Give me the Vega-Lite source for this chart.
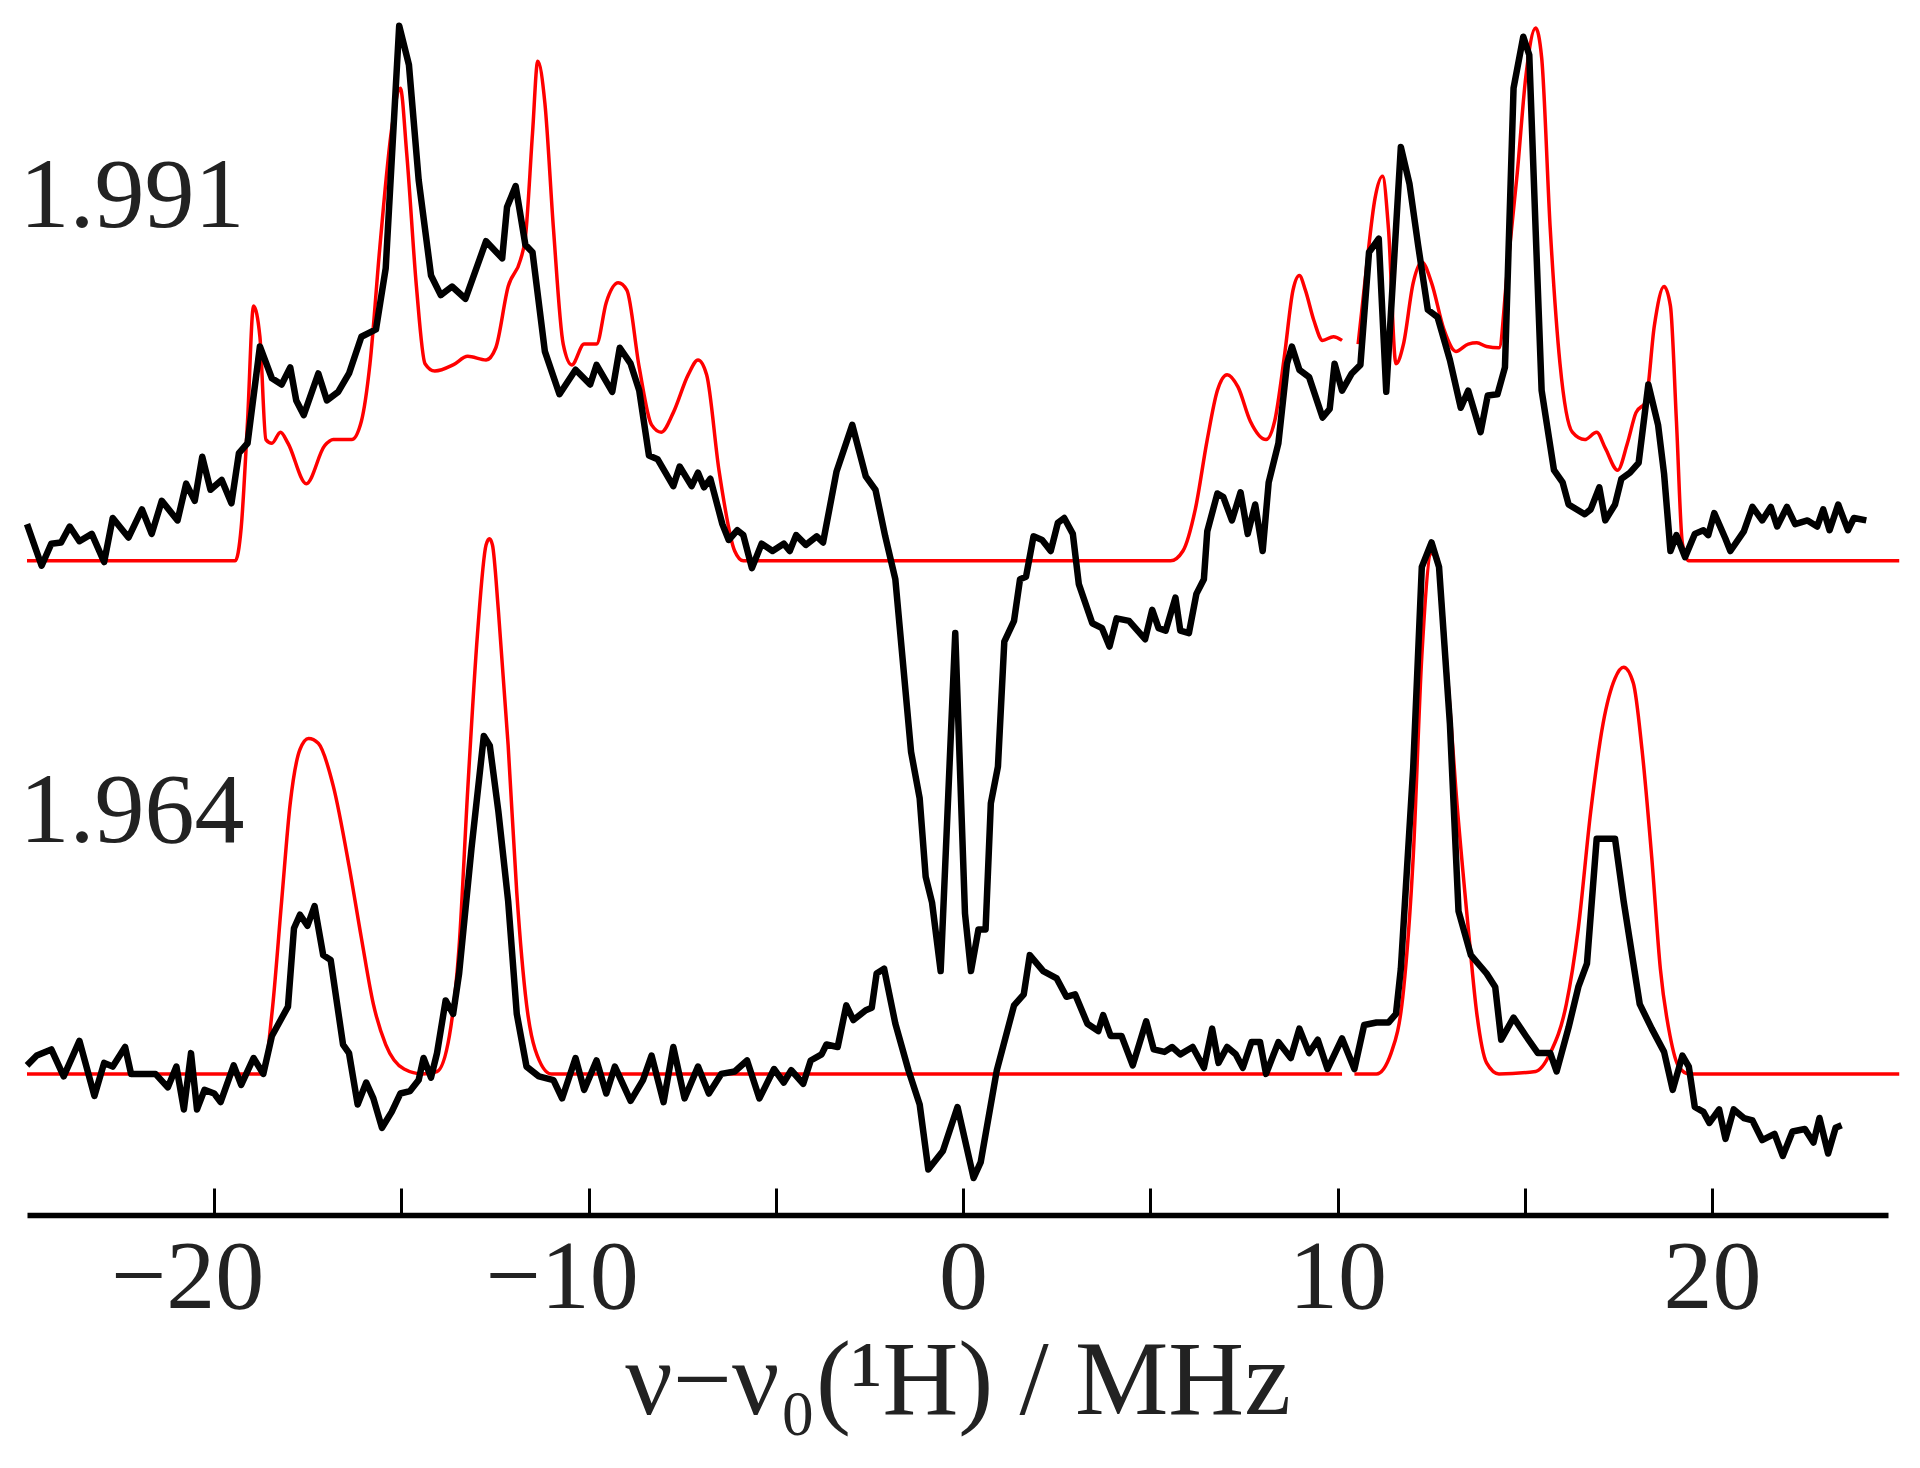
{
"$schema": "https://vega.github.io/schema/vega-lite/v6.json",
"width": 1861, "height": 1205,
"autosize": {"type": "none"},
"padding": {"left": 27, "top": 10, "right": 32, "bottom": 253},
"background": "white",
"config": {"view": {"stroke": null}, "font": "Liberation Serif"},
"datasets": {
"sim": [
{"p":"ua","x":-25,"y":419},{"p":"ua","x":-19.44,"y":419},{"p":"ua","x":-19.28,"y":446},{"p":"ua","x":-19.11,"y":533},{"p":"ua","x":-18.95,"y":627},{"p":"ua","x":-18.78,"y":602},{"p":"ua","x":-18.62,"y":518},{"p":"ua","x":-18.46,"y":515},{"p":"ua","x":-18.23,"y":524},{"p":"ua","x":-18.03,"y":515},{"p":"ua","x":-17.54,"y":482},{"p":"ua","x":-17.05,"y":513},{"p":"ua","x":-16.82,"y":518},{"p":"ua","x":-16.33,"y":518},{"p":"ua","x":-16.07,"y":533},{"p":"ua","x":-15.84,"y":580},{"p":"ua","x":-15.58,"y":674},{"p":"ua","x":-15.25,"y":774},{"p":"ua","x":-15.03,"y":805},{"p":"ua","x":-14.86,"y":752},{"p":"ua","x":-14.6,"y":643},{"p":"ua","x":-14.37,"y":580},{"p":"ua","x":-14.11,"y":574},{"p":"ua","x":-13.62,"y":579},{"p":"ua","x":-13.23,"y":586},{"p":"ua","x":-12.74,"y":583},{"p":"ua","x":-12.48,"y":593},{"p":"ua","x":-12.15,"y":643},{"p":"ua","x":-11.82,"y":665},{"p":"ua","x":-11.69,"y":683},{"p":"ua","x":-11.5,"y":768},{"p":"ua","x":-11.36,"y":827},{"p":"ua","x":-11.17,"y":793},{"p":"ua","x":-10.94,"y":690},{"p":"ua","x":-10.68,"y":596},{"p":"ua","x":-10.45,"y":579},{"p":"ua","x":-10.12,"y":596},{"p":"ua","x":-9.79,"y":596},{"p":"ua","x":-9.53,"y":630},{"p":"ua","x":-9.21,"y":646},{"p":"ua","x":-8.98,"y":640},{"p":"ua","x":-8.65,"y":577},{"p":"ua","x":-8.32,"y":530},{"p":"ua","x":-8.06,"y":524},{"p":"ua","x":-7.74,"y":540},{"p":"ua","x":-7.34,"y":571},{"p":"ua","x":-7.08,"y":583},{"p":"ua","x":-6.85,"y":571},{"p":"ua","x":-6.52,"y":493},{"p":"ua","x":-6.1,"y":427},{"p":"ua","x":-5.87,"y":419},{"p":"ua","x":5.54,"y":419},{"p":"ua","x":5.87,"y":427},{"p":"ua","x":6.2,"y":461},{"p":"ua","x":6.52,"y":518},{"p":"ua","x":6.79,"y":558},{"p":"ua","x":7.05,"y":571},{"p":"ua","x":7.34,"y":561},{"p":"ua","x":7.67,"y":533},{"p":"ua","x":8.09,"y":518},{"p":"ua","x":8.32,"y":533},{"p":"ua","x":8.58,"y":586},{"p":"ua","x":8.81,"y":640},{"p":"ua","x":8.98,"y":652},{"p":"ua","x":9.14,"y":640},{"p":"ua","x":9.37,"y":615},{"p":"ua","x":9.6,"y":599},{"p":"ua","x":9.89,"y":602},{"p":"ua","x":10.12,"y":599},
{"p":"ub","x":10.55,"y":596},{"p":"ub","x":10.77,"y":658},{"p":"ub","x":11.0,"y":715},{"p":"ub","x":11.2,"y":733},{"p":"ub","x":11.36,"y":690},{"p":"ub","x":11.56,"y":580},{"p":"ub","x":11.76,"y":596},{"p":"ub","x":12.02,"y":646},{"p":"ub","x":12.25,"y":663},{"p":"ub","x":12.51,"y":646},{"p":"ub","x":12.84,"y":608},{"p":"ub","x":13.16,"y":590},{"p":"ub","x":13.49,"y":596},{"p":"ub","x":13.72,"y":597},{"p":"ub","x":13.98,"y":594},{"p":"ub","x":14.31,"y":593},{"p":"ub","x":14.54,"y":658},{"p":"ub","x":14.8,"y":736},{"p":"ub","x":15.03,"y":815},{"p":"ub","x":15.29,"y":854},{"p":"ub","x":15.45,"y":830},{"p":"ub","x":15.68,"y":690},{"p":"ub","x":15.94,"y":580},{"p":"ub","x":16.27,"y":524},{"p":"ub","x":16.6,"y":518},{"p":"ub","x":16.92,"y":524},{"p":"ub","x":17.15,"y":511},{"p":"ub","x":17.48,"y":493},{"p":"ub","x":17.74,"y":515},{"p":"ub","x":17.97,"y":540},{"p":"ub","x":18.23,"y":549},{"p":"ub","x":18.46,"y":611},{"p":"ub","x":18.72,"y":643},{"p":"ub","x":18.89,"y":627},{"p":"ub","x":19.05,"y":533},{"p":"ub","x":19.21,"y":433},{"p":"ub","x":19.38,"y":419},{"p":"ub","x":25,"y":419},
{"p":"la","x":-25,"y":0},{"p":"la","x":-18.69,"y":0},{"p":"la","x":-18.46,"y":49},{"p":"la","x":-18.2,"y":141},{"p":"la","x":-17.97,"y":221},{"p":"la","x":-17.71,"y":265},{"p":"la","x":-17.48,"y":274},{"p":"la","x":-17.22,"y":270},{"p":"la","x":-16.82,"y":235},{"p":"la","x":-16.4,"y":170},{"p":"la","x":-16.07,"y":111},{"p":"la","x":-15.75,"y":57},{"p":"la","x":-15.42,"y":24},{"p":"la","x":-14.93,"y":4},{"p":"la","x":-14.44,"y":0},{"p":"la","x":-14.05,"y":2},{"p":"la","x":-13.72,"y":31},{"p":"la","x":-13.46,"y":104},{"p":"la","x":-13.23,"y":232},{"p":"la","x":-12.97,"y":359},{"p":"la","x":-12.74,"y":432},{"p":"la","x":-12.65,"y":437},{"p":"la","x":-12.57,"y":432},{"p":"la","x":-12.41,"y":378},{"p":"la","x":-12.15,"y":268},{"p":"la","x":-11.92,"y":148},{"p":"la","x":-11.66,"y":57},{"p":"la","x":-11.43,"y":20},{"p":"la","x":-11.0,"y":0},{"p":"la","x":10.12,"y":0},
{"p":"lb","x":10.45,"y":0},{"p":"lb","x":11.04,"y":0},{"p":"lb","x":11.43,"y":17},{"p":"lb","x":11.76,"y":68},{"p":"lb","x":12.02,"y":177},{"p":"lb","x":12.25,"y":341},{"p":"lb","x":12.51,"y":425},{"p":"lb","x":12.67,"y":421},{"p":"lb","x":12.9,"y":341},{"p":"lb","x":13.16,"y":232},{"p":"lb","x":13.49,"y":119},{"p":"lb","x":13.72,"y":49},{"p":"lb","x":13.98,"y":9},{"p":"lb","x":14.31,"y":0},{"p":"lb","x":15.29,"y":2},{"p":"lb","x":15.68,"y":17},{"p":"lb","x":16.11,"y":57},{"p":"lb","x":16.43,"y":119},{"p":"lb","x":16.76,"y":214},{"p":"lb","x":17.09,"y":286},{"p":"lb","x":17.41,"y":323},{"p":"lb","x":17.64,"y":332},{"p":"lb","x":17.9,"y":319},{"p":"lb","x":18.13,"y":265},{"p":"lb","x":18.39,"y":177},{"p":"lb","x":18.62,"y":86},{"p":"lb","x":18.88,"y":31},{"p":"lb","x":19.11,"y":6},{"p":"lb","x":19.38,"y":0},{"p":"lb","x":25,"y":0}
],
"exp": [
{"t":"u","x":-25.0,"y":449},{"t":"u","x":-24.61,"y":415},{"t":"u","x":-24.35,"y":433},{"t":"u","x":-24.09,"y":434},{"t":"u","x":-23.86,"y":447},{"t":"u","x":-23.6,"y":435},{"t":"u","x":-23.27,"y":441},{"t":"u","x":-22.94,"y":418},{"t":"u","x":-22.71,"y":454},{"t":"u","x":-22.29,"y":438},{"t":"u","x":-21.93,"y":461},{"t":"u","x":-21.67,"y":441},{"t":"u","x":-21.4,"y":468},{"t":"u","x":-20.98,"y":452},{"t":"u","x":-20.75,"y":482},{"t":"u","x":-20.52,"y":468},{"t":"u","x":-20.32,"y":504},{"t":"u","x":-20.1,"y":477},{"t":"u","x":-19.8,"y":485},{"t":"u","x":-19.54,"y":466},{"t":"u","x":-19.34,"y":507},{"t":"u","x":-19.11,"y":515},{"t":"u","x":-18.78,"y":594},{"t":"u","x":-18.46,"y":568},{"t":"u","x":-18.2,"y":563},{"t":"u","x":-17.97,"y":577},{"t":"u","x":-17.81,"y":550},{"t":"u","x":-17.61,"y":538},{"t":"u","x":-17.22,"y":572},{"t":"u","x":-16.99,"y":550},{"t":"u","x":-16.69,"y":557},{"t":"u","x":-16.4,"y":572},{"t":"u","x":-16.07,"y":602},{"t":"u","x":-15.68,"y":608},{"t":"u","x":-15.42,"y":658},{"t":"u","x":-15.06,"y":856},{"t":"u","x":-14.8,"y":824},{"t":"u","x":-14.54,"y":730},{"t":"u","x":-14.21,"y":652},{"t":"u","x":-13.95,"y":636},{"t":"u","x":-13.65,"y":643},{"t":"u","x":-13.29,"y":633},{"t":"u","x":-12.74,"y":680},{"t":"u","x":-12.31,"y":666},{"t":"u","x":-12.18,"y":708},{"t":"u","x":-11.95,"y":725},{"t":"u","x":-11.69,"y":677},{"t":"u","x":-11.5,"y":671},{"t":"u","x":-11.17,"y":590},{"t":"u","x":-10.78,"y":555},{"t":"u","x":-10.35,"y":575},{"t":"u","x":-9.96,"y":563},{"t":"u","x":-9.79,"y":579},{"t":"u","x":-9.37,"y":557},{"t":"u","x":-9.17,"y":593},{"t":"u","x":-8.88,"y":580},{"t":"u","x":-8.65,"y":558},{"t":"u","x":-8.39,"y":505},{"t":"u","x":-8.16,"y":502},{"t":"u","x":-7.74,"y":480},{"t":"u","x":-7.57,"y":496},{"t":"u","x":-7.25,"y":480},{"t":"u","x":-7.08,"y":491},{"t":"u","x":-6.92,"y":479},{"t":"u","x":-6.75,"y":486},{"t":"u","x":-6.43,"y":449},{"t":"u","x":-6.26,"y":436},{"t":"u","x":-6.03,"y":444},{"t":"u","x":-5.87,"y":440},{"t":"u","x":-5.64,"y":413},{"t":"u","x":-5.38,"y":433},{"t":"u","x":-5.09,"y":427},{"t":"u","x":-4.79,"y":433},{"t":"u","x":-4.63,"y":427},{"t":"u","x":-4.46,"y":440},{"t":"u","x":-4.2,"y":432},{"t":"u","x":-3.91,"y":439},{"t":"u","x":-3.74,"y":434},{"t":"u","x":-3.38,"y":492},{"t":"u","x":-2.96,"y":530},{"t":"u","x":-2.6,"y":488},{"t":"u","x":-2.34,"y":477},{"t":"u","x":-2.08,"y":439},{"t":"u","x":-1.81,"y":404},{"t":"u","x":-1.39,"y":263},{"t":"u","x":-1.16,"y":225},{"t":"u","x":-1.0,"y":161},{"t":"u","x":-0.83,"y":140},{"t":"u","x":-0.6,"y":84},{"t":"u","x":-0.21,"y":360},{"t":"u","x":0.05,"y":131},{"t":"u","x":0.21,"y":84},{"t":"u","x":0.41,"y":118},{"t":"u","x":0.6,"y":118},{"t":"u","x":0.74,"y":221},{"t":"u","x":0.93,"y":251},{"t":"u","x":1.1,"y":353},{"t":"u","x":1.36,"y":370},{"t":"u","x":1.52,"y":404},{"t":"u","x":1.68,"y":406},{"t":"u","x":1.88,"y":439},{"t":"u","x":2.11,"y":436},{"t":"u","x":2.34,"y":427},{"t":"u","x":2.53,"y":450},{"t":"u","x":2.7,"y":454},{"t":"u","x":2.93,"y":441},{"t":"u","x":3.09,"y":400},{"t":"u","x":3.45,"y":368},{"t":"u","x":3.71,"y":364},{"t":"u","x":3.91,"y":349},{"t":"u","x":4.1,"y":372},{"t":"u","x":4.43,"y":370},{"t":"u","x":4.86,"y":355},{"t":"u","x":5.05,"y":379},{"t":"u","x":5.22,"y":364},{"t":"u","x":5.41,"y":362},{"t":"u","x":5.67,"y":389},{"t":"u","x":5.8,"y":362},{"t":"u","x":6.03,"y":360},{"t":"u","x":6.23,"y":392},{"t":"u","x":6.43,"y":404},{"t":"u","x":6.52,"y":443},{"t":"u","x":6.79,"y":474},{"t":"u","x":6.95,"y":471},{"t":"u","x":7.18,"y":452},{"t":"u","x":7.41,"y":475},{"t":"u","x":7.6,"y":441},{"t":"u","x":7.8,"y":465},{"t":"u","x":8.0,"y":427},{"t":"u","x":8.16,"y":483},{"t":"u","x":8.42,"y":515},{"t":"u","x":8.65,"y":580},{"t":"u","x":8.78,"y":594},{"t":"u","x":8.98,"y":575},{"t":"u","x":9.24,"y":569},{"t":"u","x":9.6,"y":536},{"t":"u","x":9.79,"y":543},{"t":"u","x":9.92,"y":580},{"t":"u","x":10.12,"y":558},{"t":"u","x":10.38,"y":572},{"t":"u","x":10.61,"y":579},{"t":"u","x":10.84,"y":671},{"t":"u","x":11.1,"y":682},{"t":"u","x":11.3,"y":557},{"t":"u","x":11.69,"y":757},{"t":"u","x":11.92,"y":727},{"t":"u","x":12.15,"y":677},{"t":"u","x":12.41,"y":624},{"t":"u","x":12.67,"y":618},{"t":"u","x":13.0,"y":583},{"t":"u","x":13.29,"y":544},{"t":"u","x":13.49,"y":558},{"t":"u","x":13.82,"y":524},{"t":"u","x":14.01,"y":554},{"t":"u","x":14.27,"y":555},{"t":"u","x":14.47,"y":577},{"t":"u","x":14.7,"y":805},{"t":"u","x":14.96,"y":847},{"t":"u","x":15.12,"y":832},{"t":"u","x":15.29,"y":689},{"t":"u","x":15.45,"y":558},{"t":"u","x":15.78,"y":493},{"t":"u","x":16.01,"y":483},{"t":"u","x":16.17,"y":465},{"t":"u","x":16.6,"y":457},{"t":"u","x":16.76,"y":461},{"t":"u","x":16.99,"y":479},{"t":"u","x":17.15,"y":452},{"t":"u","x":17.41,"y":465},{"t":"u","x":17.58,"y":486},{"t":"u","x":17.81,"y":491},{"t":"u","x":18.04,"y":499},{"t":"u","x":18.3,"y":563},{"t":"u","x":18.56,"y":530},{"t":"u","x":18.72,"y":490},{"t":"u","x":18.89,"y":427},{"t":"u","x":19.05,"y":440},{"t":"u","x":19.28,"y":422},{"t":"u","x":19.54,"y":441},{"t":"u","x":19.77,"y":444},{"t":"u","x":19.9,"y":440},{"t":"u","x":20.06,"y":458},{"t":"u","x":20.36,"y":437},{"t":"u","x":20.49,"y":427},{"t":"u","x":20.85,"y":443},{"t":"u","x":21.08,"y":463},{"t":"u","x":21.34,"y":452},{"t":"u","x":21.57,"y":463},{"t":"u","x":21.74,"y":447},{"t":"u","x":22.0,"y":463},{"t":"u","x":22.22,"y":449},{"t":"u","x":22.55,"y":452},{"t":"u","x":22.81,"y":447},{"t":"u","x":22.97,"y":461},{"t":"u","x":23.14,"y":444},{"t":"u","x":23.37,"y":465},{"t":"u","x":23.63,"y":444},{"t":"u","x":23.79,"y":454},{"t":"u","x":24.12,"y":452},
{"t":"l","x":-25.0,"y":7},{"t":"l","x":-24.74,"y":15},{"t":"l","x":-24.35,"y":20},{"t":"l","x":-24.02,"y":-2},{"t":"l","x":-23.6,"y":27},{"t":"l","x":-23.2,"y":-18},{"t":"l","x":-22.94,"y":9},{"t":"l","x":-22.71,"y":6},{"t":"l","x":-22.38,"y":22},{"t":"l","x":-22.22,"y":0},{"t":"l","x":-21.57,"y":0},{"t":"l","x":-21.24,"y":-11},{"t":"l","x":-21.01,"y":6},{"t":"l","x":-20.81,"y":-29},{"t":"l","x":-20.62,"y":17},{"t":"l","x":-20.46,"y":-29},{"t":"l","x":-20.26,"y":-13},{"t":"l","x":-20.0,"y":-16},{"t":"l","x":-19.83,"y":-23},{"t":"l","x":-19.48,"y":7},{"t":"l","x":-19.28,"y":-9},{"t":"l","x":-18.95,"y":13},{"t":"l","x":-18.69,"y":0},{"t":"l","x":-18.46,"y":31},{"t":"l","x":-18.03,"y":55},{"t":"l","x":-17.87,"y":119},{"t":"l","x":-17.71,"y":130},{"t":"l","x":-17.51,"y":121},{"t":"l","x":-17.32,"y":137},{"t":"l","x":-17.09,"y":97},{"t":"l","x":-16.89,"y":93},{"t":"l","x":-16.56,"y":24},{"t":"l","x":-16.4,"y":17},{"t":"l","x":-16.17,"y":-25},{"t":"l","x":-15.94,"y":-7},{"t":"l","x":-15.75,"y":-20},{"t":"l","x":-15.52,"y":-44},{"t":"l","x":-15.26,"y":-31},{"t":"l","x":-15.03,"y":-16},{"t":"l","x":-14.77,"y":-14},{"t":"l","x":-14.54,"y":-5},{"t":"l","x":-14.41,"y":13},{"t":"l","x":-14.21,"y":-3},{"t":"l","x":-14.05,"y":17},{"t":"l","x":-13.82,"y":60},{"t":"l","x":-13.62,"y":49},{"t":"l","x":-13.46,"y":82},{"t":"l","x":-13.13,"y":184},{"t":"l","x":-12.8,"y":276},{"t":"l","x":-12.64,"y":268},{"t":"l","x":-12.41,"y":214},{"t":"l","x":-12.15,"y":141},{"t":"l","x":-11.92,"y":49},{"t":"l","x":-11.66,"y":6},{"t":"l","x":-11.33,"y":-2},{"t":"l","x":-10.94,"y":-5},{"t":"l","x":-10.71,"y":-20},{"t":"l","x":-10.35,"y":13},{"t":"l","x":-10.12,"y":-13},{"t":"l","x":-9.79,"y":11},{"t":"l","x":-9.53,"y":-16},{"t":"l","x":-9.3,"y":6},{"t":"l","x":-8.88,"y":-22},{"t":"l","x":-8.55,"y":-5},{"t":"l","x":-8.32,"y":15},{"t":"l","x":-8.0,"y":-23},{"t":"l","x":-7.74,"y":22},{"t":"l","x":-7.44,"y":-20},{"t":"l","x":-7.08,"y":6},{"t":"l","x":-6.79,"y":-16},{"t":"l","x":-6.46,"y":0},{"t":"l","x":-6.1,"y":2},{"t":"l","x":-5.77,"y":11},{"t":"l","x":-5.44,"y":-20},{"t":"l","x":-5.05,"y":4},{"t":"l","x":-4.79,"y":-7},{"t":"l","x":-4.59,"y":3},{"t":"l","x":-4.27,"y":-8},{"t":"l","x":-4.07,"y":11},{"t":"l","x":-3.78,"y":16},{"t":"l","x":-3.65,"y":24},{"t":"l","x":-3.35,"y":22},{"t":"l","x":-3.12,"y":56},{"t":"l","x":-2.93,"y":44},{"t":"l","x":-2.6,"y":52},{"t":"l","x":-2.44,"y":54},{"t":"l","x":-2.31,"y":82},{"t":"l","x":-2.11,"y":86},{"t":"l","x":-1.81,"y":41},{"t":"l","x":-1.46,"y":3},{"t":"l","x":-1.16,"y":-25},{"t":"l","x":-0.93,"y":-78},{"t":"l","x":-0.54,"y":-63},{"t":"l","x":-0.15,"y":-27},{"t":"l","x":0.28,"y":-85},{"t":"l","x":0.47,"y":-72},{"t":"l","x":0.9,"y":3},{"t":"l","x":1.36,"y":56},{"t":"l","x":1.62,"y":65},{"t":"l","x":1.78,"y":97},{"t":"l","x":2.14,"y":84},{"t":"l","x":2.5,"y":78},{"t":"l","x":2.76,"y":63},{"t":"l","x":2.99,"y":65},{"t":"l","x":3.32,"y":41},{"t":"l","x":3.61,"y":35},{"t":"l","x":3.74,"y":48},{"t":"l","x":3.94,"y":31},{"t":"l","x":4.23,"y":31},{"t":"l","x":4.53,"y":7},{"t":"l","x":4.89,"y":43},{"t":"l","x":5.09,"y":20},{"t":"l","x":5.38,"y":18},{"t":"l","x":5.58,"y":22},{"t":"l","x":5.8,"y":16},{"t":"l","x":6.13,"y":22},{"t":"l","x":6.43,"y":5},{"t":"l","x":6.65,"y":37},{"t":"l","x":6.82,"y":9},{"t":"l","x":7.05,"y":22},{"t":"l","x":7.28,"y":16},{"t":"l","x":7.47,"y":5},{"t":"l","x":7.7,"y":26},{"t":"l","x":7.93,"y":26},{"t":"l","x":8.09,"y":0},{"t":"l","x":8.42,"y":26},{"t":"l","x":8.75,"y":13},{"t":"l","x":8.98,"y":37},{"t":"l","x":9.24,"y":17},{"t":"l","x":9.47,"y":28},{"t":"l","x":9.73,"y":4},{"t":"l","x":10.12,"y":29},{"t":"l","x":10.45,"y":4},{"t":"l","x":10.71,"y":40},{"t":"l","x":11.04,"y":42},{"t":"l","x":11.36,"y":42},{"t":"l","x":11.56,"y":49},{"t":"l","x":11.69,"y":86},{"t":"l","x":12.02,"y":250},{"t":"l","x":12.25,"y":414},{"t":"l","x":12.51,"y":434},{"t":"l","x":12.71,"y":414},{"t":"l","x":13.0,"y":286},{"t":"l","x":13.23,"y":133},{"t":"l","x":13.56,"y":97},{"t":"l","x":13.98,"y":82},{"t":"l","x":14.21,"y":71},{"t":"l","x":14.37,"y":28},{"t":"l","x":14.7,"y":46},{"t":"l","x":15.03,"y":31},{"t":"l","x":15.35,"y":17},{"t":"l","x":15.68,"y":17},{"t":"l","x":15.85,"y":2},{"t":"l","x":16.17,"y":38},{"t":"l","x":16.43,"y":71},{"t":"l","x":16.66,"y":90},{"t":"l","x":16.92,"y":192},{"t":"l","x":17.41,"y":192},{"t":"l","x":17.64,"y":141},{"t":"l","x":18.07,"y":57},{"t":"l","x":18.39,"y":37},{"t":"l","x":18.72,"y":18},{"t":"l","x":18.95,"y":-13},{"t":"l","x":19.21,"y":15},{"t":"l","x":19.38,"y":6},{"t":"l","x":19.54,"y":-27},{"t":"l","x":19.77,"y":-31},{"t":"l","x":19.93,"y":-40},{"t":"l","x":20.19,"y":-29},{"t":"l","x":20.36,"y":-53},{"t":"l","x":20.58,"y":-29},{"t":"l","x":20.85,"y":-36},{"t":"l","x":21.08,"y":-38},{"t":"l","x":21.34,"y":-54},{"t":"l","x":21.67,"y":-49},{"t":"l","x":21.89,"y":-67},{"t":"l","x":22.15,"y":-47},{"t":"l","x":22.48,"y":-45},{"t":"l","x":22.71,"y":-56},{"t":"l","x":22.87,"y":-36},{"t":"l","x":23.1,"y":-65},{"t":"l","x":23.3,"y":-44},{"t":"l","x":23.46,"y":-42}
],
"lab": [
{"label":"1.991","x":-25.2,"y":692},
{"label":"1.964","x":-25.2,"y":189}
]
},
"layer": [
{
"data": {"name": "sim"},
"mark": {"type": "line", "color": "#ff0000", "strokeWidth": 3.5, "interpolate": "monotone"},
"encoding": {
"x": {"field": "x", "type": "quantitative", "scale": {"domain": [-25, 24.7], "nice": false, "zero": false},
"axis": {"values": [-20, -15, -10, -5, 0, 5, 10, 15, 20], "labelExpr": "datum.value % 10 === 0 ? datum.label : ''", "grid": false, "domainColor": "#000000", "domainWidth": 5.5, "tickColor": "#000000", "tickWidth": 3, "tickSize": -27, "labelFont": "Liberation Serif", "labelFontSize": 98, "labelColor": "#222222", "labelPadding": 42, "labelOffset": {"condition": {"test": "datum.value < 0", "value": -27}, "value": 0}, "labelFlush": false, "labelOverlap": false, "title": "ν−ν₀(¹H) / MHz", "titleFont": "Liberation Serif", "titleFontSize": 105, "titleFontWeight": "normal", "titleColor": "#222222", "titleBaseline": "alphabetic", "titleY": 198}},
"y": {"field": "y", "type": "quantitative", "scale": {"domain": [-115.2, 868.8], "nice": false, "zero": false}, "axis": null},
"detail": {"field": "p"}
}
},
{
"data": {"name": "exp"},
"mark": {"type": "line", "color": "#000000", "strokeWidth": 6.5, "strokeJoin": "round"},
"encoding": {
"x": {"field": "x", "type": "quantitative"},
"y": {"field": "y", "type": "quantitative"},
"detail": {"field": "t"}
}
},
{
"data": {"name": "lab"},
"mark": {"type": "text", "align": "left", "baseline": "alphabetic", "fontSize": 100, "color": "#222222", "font": "Liberation Serif"},
"encoding": {
"x": {"field": "x", "type": "quantitative"},
"y": {"field": "y", "type": "quantitative"},
"text": {"field": "label"}
}
}
]
}
